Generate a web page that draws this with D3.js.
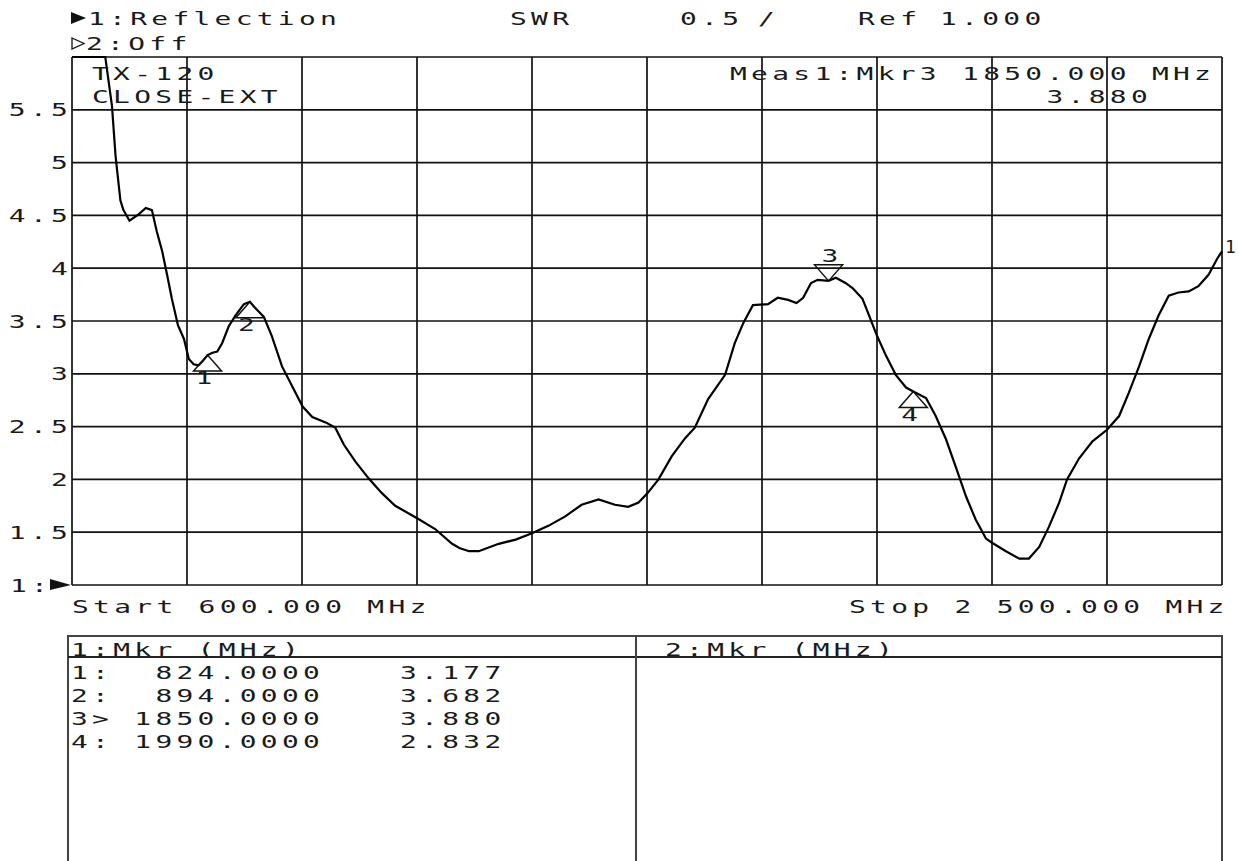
<!DOCTYPE html>
<html><head><meta charset="utf-8">
<script src="https://cdn.jsdelivr.net/npm/d3@7"></script>
<style>html,body{margin:0;padding:0;background:#fff;}svg{display:block;}</style>
</head><body>
<svg id="c" width="1239" height="861"></svg>
<script>
// ---- data ----
const freqMHz = [600,630,655,666,672,680,685,695,710,722,732,740,749,757,765,775,785,793,801,809,816,824,832,840,848,859,870,884,894,900,917,930,947,964,981,997,1019,1035,1049,1068,1090,1112,1134,1171,1200,1228,1240,1256,1272,1305,1333,1360,1387,1415,1442,1470,1497,1519,1536,1551,1569,1591,1613,1629,1651,1679,1695,1709,1725,1750,1766,1783,1797,1808,1821,1832,1850,1862,1878,1890,1906,1917,1930,1945,1961,1978,1990,2011,2027,2044,2060,2077,2093,2110,2120,2143,2165,2181,2198,2214,2231,2244,2264,2286,2310,2330,2346,2363,2379,2395,2412,2428,2445,2461,2478,2492,2500];
const swr = [6.8,6.4,6.0,5.54,5.06,4.64,4.55,4.45,4.51,4.57,4.55,4.35,4.16,3.94,3.71,3.46,3.33,3.14,3.09,3.08,3.12,3.177,3.20,3.21,3.29,3.45,3.55,3.66,3.682,3.64,3.54,3.36,3.07,2.88,2.69,2.59,2.54,2.49,2.33,2.17,2.01,1.87,1.75,1.63,1.53,1.39,1.35,1.32,1.32,1.39,1.43,1.49,1.56,1.65,1.76,1.81,1.76,1.74,1.78,1.87,2.0,2.22,2.39,2.49,2.76,2.99,3.29,3.48,3.65,3.66,3.72,3.70,3.67,3.72,3.86,3.89,3.88,3.91,3.86,3.81,3.71,3.55,3.36,3.17,2.99,2.87,2.832,2.77,2.60,2.38,2.12,1.84,1.62,1.44,1.40,1.32,1.25,1.25,1.36,1.55,1.78,2.0,2.20,2.36,2.47,2.60,2.82,3.07,3.33,3.55,3.74,3.77,3.78,3.83,3.94,4.09,4.16];
const yTicks = [1.5,2,2.5,3,3.5,4,4.5,5,5.5];
const yTickLabels = ["1.5","2","2.5","3","3.5","4","4.5","5","5.5"];
const markerIds = ["1","2","3","4"];
const markerPrefix = ["1:","2:","3>","4:"];
const markerFreq = [824,894,1850,1990];
const markerVal = [3.177,3.682,3.880,2.832];
const activeMarker = 2; // index of marker 3
const startMHz = 600, stopMHz = 2500, refVal = 1, scalePerDiv = 0.5;

// ---- layout ----
const svg = d3.select('#c');
const L = 72, R = 1222, T = 57, B = 585;
const x = d3.scaleLinear().domain([startMHz, stopMHz]).range([L, R]);
const y = d3.scaleLinear().domain([refVal, refVal + 10*scalePerDiv]).range([B, T]).clamp(true);

const P = 21.1, FS = 18, SX = 1.55;
function txt(s, tx, ty, g, sx, ls) {
  const k = sx || SX;
  return (g||svg).append('text')
    .attr('transform', `translate(${tx},${ty}) scale(${k},1)`)
    .attr('font-family', 'DejaVu Sans Mono')
    .attr('font-size', FS)
    .attr('letter-spacing', ls === undefined ? (P/k - FS*0.602) : ls)
    .attr('fill', '#1a1a1a')
    .style('white-space', 'pre')
    .text(s);
}

svg.append('rect').attr('width',1239).attr('height',861).attr('fill','#fff');

// grid
const gridX = d3.range(0, 11).map(i => startMHz + i*(stopMHz-startMHz)/10);
const gridY = d3.range(0, 11).map(i => refVal + i*scalePerDiv);
svg.append('g').selectAll('line.v').data(gridX).join('line')
  .attr('x1', d => x(d)).attr('x2', d => x(d)).attr('y1', T).attr('y2', B)
  .attr('stroke', '#111').attr('stroke-width', 1.7);
svg.append('g').selectAll('line.h').data(gridY).join('line')
  .attr('x1', L).attr('x2', R).attr('y1', d => y(d)).attr('y2', d => y(d))
  .attr('stroke', '#111').attr('stroke-width', 1.7);

// y labels
yTicks.forEach((v,i) => {
  const s = yTickLabels[i];
  const w = (s.length-1)*P + 15;
  txt(s, 66 - w, y(v) + 6.5);
});
txt("1:", 10, B + 6.5);
svg.append('path').attr('d', `M50,${B-6} L71,${B} L50,${B+5} Z`).attr('fill','#111');

// trace
const pts = freqMHz.map((f,i) => [x(f), y(swr[i])]);
svg.append('path').attr('d', d3.line()(pts)).attr('fill','none')
  .attr('stroke','#000').attr('stroke-width',2.2).attr('stroke-linejoin','miter');

// markers
markerFreq.forEach((f,i) => {
  const mx = x(f), my = y(markerVal[i]);
  const hw = 14, h = 16;
  if (i === activeMarker) {
    svg.append('path').attr('d', `M${mx},${my} L${mx-hw},${my-h} L${mx+hw},${my-h} Z`)
      .attr('fill','none').attr('stroke','#111').attr('stroke-width',1.5);
    txt(markerIds[i], mx - 7, my - h - 3);
  } else {
    svg.append('path').attr('d', `M${mx},${my} L${mx-hw},${my+h} L${mx+hw},${my+h} Z`)
      .attr('fill','none').attr('stroke','#111').attr('stroke-width',1.5);
    txt(markerIds[i], mx - 12, my + h + 13);
  }
});
// trace-end label (kept inside the page edge)
txt("1", R + 3, y(swr[swr.length-1]) + 2, null, 1.0, 0);

// header
svg.append('path').attr('d', 'M71,12 L86,18 L71,24 Z').attr('fill','#111');
txt("1:Reflection", 88, 25);
txt("SWR", 510, 25);
txt(scalePerDiv.toFixed(1), 680, 25);
txt("/", 758, 25);
txt("Ref", 858, 25);
txt(refVal.toFixed(3), 940, 25);
svg.append('path').attr('d', 'M72,38 L84,43.5 L72,49 Z').attr('fill','none').attr('stroke','#111').attr('stroke-width',1.3);
txt("2:Off", 86, 50);

// annotations in plot
txt("TX-120", 92, 80);
txt("CLOSE-EXT", 92, 103);
const am = activeMarker;
txt(`Meas1:Mkr${markerIds[am]} ${markerFreq[am].toFixed(3)} MHz`, 730, 80);
txt(markerVal[am].toFixed(3), 730 + 15*P, 103);

txt(`Start ${startMHz.toFixed(3)} MHz`, 72, 613);
txt(`Stop 2 ${(stopMHz-2000).toFixed(3)} MHz`, 849, 613);

// table
const tb = svg.append('g');
tb.append('rect').attr('x', 68).attr('y', 636).attr('width', 1154).attr('height', 240)
  .attr('fill','none').attr('stroke','#444').attr('stroke-width',2);
tb.append('line').attr('x1',68).attr('x2',1222).attr('y1',657).attr('y2',657).attr('stroke','#222').attr('stroke-width',1.8);
tb.append('line').attr('x1',636).attr('x2',636).attr('y1',636).attr('y2',870).attr('stroke','#444').attr('stroke-width',2);
txt("1:Mkr (MHz)", 71, 656, tb);
txt("2:Mkr (MHz)", 665, 656, tb);
markerFreq.forEach((f,i) => {
  const by = 679 + i*23;
  txt(markerPrefix[i], 71, by, tb);
  const fs = f.toFixed(4).padStart(9, ' ');
  txt(fs, 71 + 3*P, by, tb);
  txt(markerVal[i].toFixed(3), 400, by, tb);
});
</script>
</body></html>
